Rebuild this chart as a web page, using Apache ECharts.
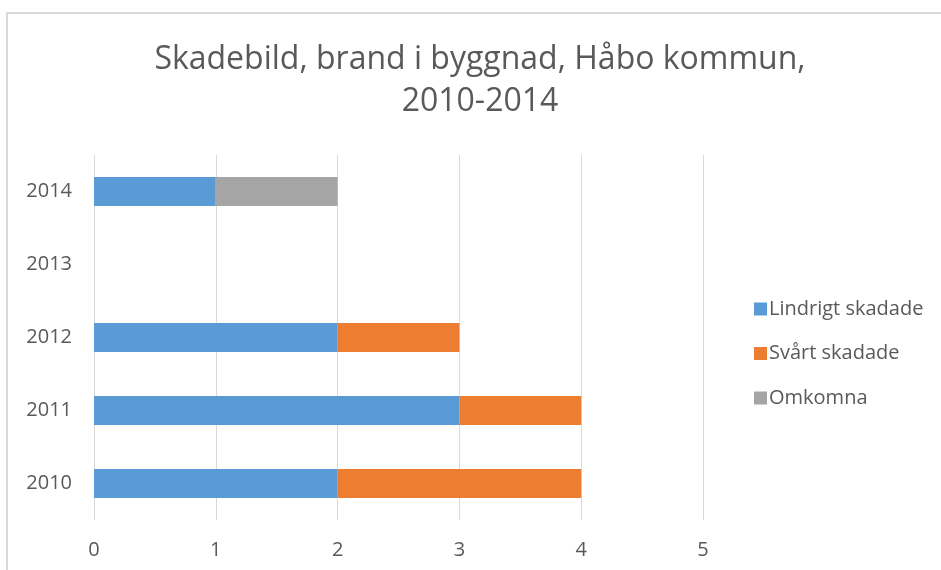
<!DOCTYPE html>
<html>
<head>
<meta charset="utf-8">
<script src="https://cdn.jsdelivr.net/npm/echarts@6/dist/echarts.min.js"></script>
<style>
  html, body { margin: 0; padding: 0; background: #fff; }
  #chart { width: 941px; height: 570px; }
</style>
</head>
<body>
<div id="chart"></div>
<script>
  // data
  var years = ['2010', '2011', '2012', '2013', '2014'];
  var lindrigt = [2, 3, 2, 0, 1];
  var svart = [2, 1, 1, 0, 0];
  var omkomna = [0, 0, 0, 0, 1];
  var xTicks = [0, 5, 1]; // min, max, interval

  var font = 'Open Sans';
  var grey = '#595959';

  var chart = echarts.init(document.getElementById('chart'));
  var options = {
    animation: false,
    backgroundColor: '#fff',
    textStyle: { fontFamily: font },
    title: {
      text: 'Skadebild, brand i byggnad, Håbo kommun,\n2010-2014',
      left: 480,
      textAlign: 'center',
      top: 39,
      padding: 0,
      textStyle: {
        fontFamily: font,
        fontSize: 32,
        fontWeight: 'normal',
        color: grey,
        lineHeight: 42
      }
    },
    graphic: [{
      type: 'rect',
      shape: { x: 7, y: 13, width: 1000, height: 700 },
      style: { fill: 'none', stroke: '#d9d9d9', lineWidth: 2 },
      silent: true
    }],
    legend: {
      orient: 'vertical',
      left: 749,
      top: 294,
      itemWidth: 13,
      itemHeight: 13,
      itemGap: 24.5,
      icon: 'rect',
      textStyle: { fontFamily: font, fontSize: 20, color: grey, lineHeight: 20, padding: [0, 0, 0, -3] },
      data: ['Lindrigt skadade', 'Svårt skadade', 'Omkomna']
    },
    grid: { left: 94, right: 238, top: 155, bottom: 50, containLabel: false },
    xAxis: {
      type: 'value',
      min: xTicks[0],
      max: xTicks[1],
      interval: xTicks[2],
      axisLine: { show: false },
      axisTick: { show: false },
      splitLine: { show: true, lineStyle: { color: '#d9d9d9', width: 1 } },
      axisLabel: { color: grey, fontSize: 20, margin: 20, fontFamily: font }
    },
    yAxis: {
      type: 'category',
      data: years,
      axisLine: { show: false },
      axisTick: { show: false },
      splitLine: { show: false },
      axisLabel: { color: grey, fontSize: 20, margin: 22, fontFamily: font }
    },
    series: [
      { name: 'Lindrigt skadade', type: 'bar', stack: 'tot', barWidth: '40%', data: lindrigt, itemStyle: { color: '#5B9BD5' } },
      { name: 'Svårt skadade', type: 'bar', stack: 'tot', data: svart, itemStyle: { color: '#ED7D31' } },
      { name: 'Omkomna', type: 'bar', stack: 'tot', data: omkomna, itemStyle: { color: '#A5A5A5' } }
    ]
  };
  chart.setOption(options);
</script>
</body>
</html>
